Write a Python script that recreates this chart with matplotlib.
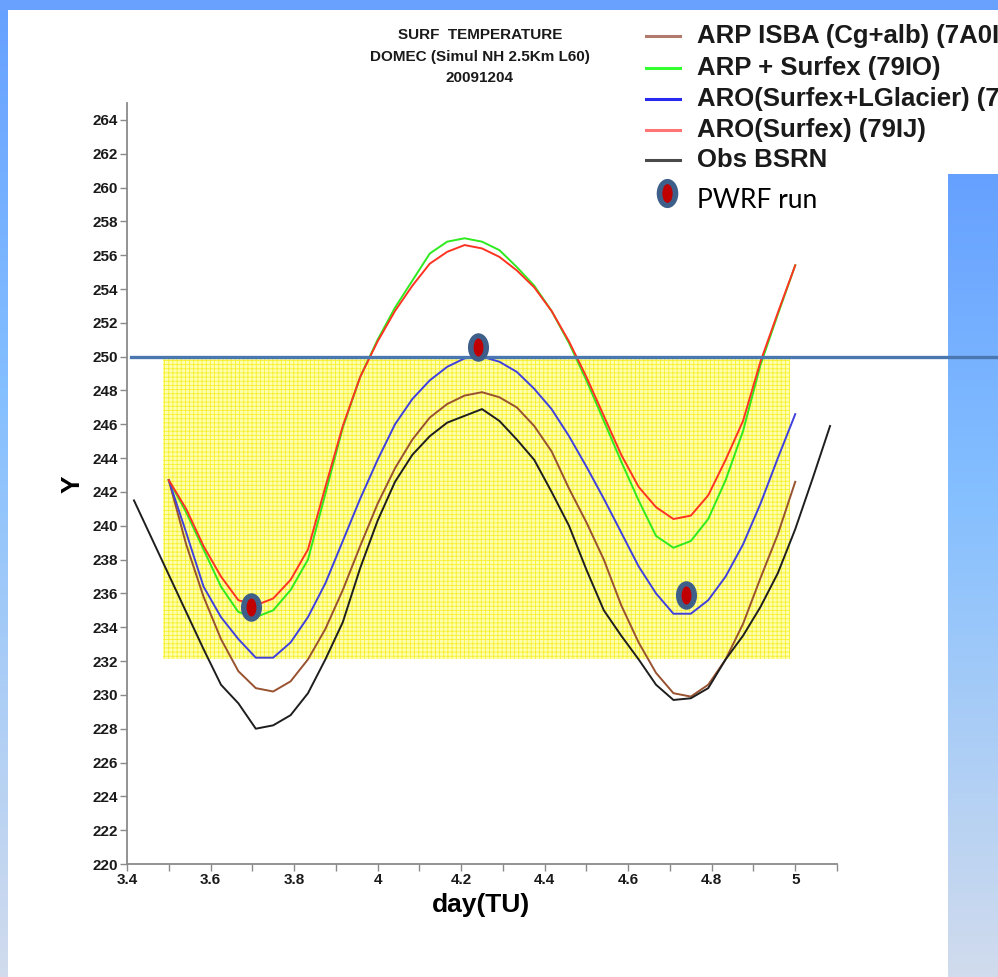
import numpy as np
import matplotlib
matplotlib.use('Agg')
import matplotlib.pyplot as plt
from matplotlib.path import Path
from matplotlib.transforms import Affine2D
from matplotlib.lines import Line2D
from matplotlib.patches import Rectangle
from matplotlib.ticker import MultipleLocator, FuncFormatter

# --- data (hourly, day in TU) ---
model_t0 = 3.5
obs_t0 = 3.4167
step = 1.0 / 24

arp_isba = [242.7, 238.9, 235.8, 233.3, 231.4, 230.4, 230.2, 230.8, 232.1, 233.9,
            236.2, 238.8, 241.3, 243.4, 245.1, 246.4, 247.2, 247.7, 247.9, 247.6,
            247.0, 245.9, 244.4, 242.2, 240.2, 238.0, 235.3, 233.1, 231.3, 230.1,
            229.9, 230.6, 232.1, 234.2, 236.9, 239.5, 242.6]
arp_surfex = [242.7, 240.8, 238.6, 236.4, 234.9, 234.6, 235.0, 236.2, 238.0, 241.9,
              245.8, 248.8, 251.0, 252.9, 254.5, 256.1, 256.8, 257.0, 256.8, 256.3,
              255.3, 254.2, 252.7, 250.8, 248.6, 246.2, 243.8, 241.5, 239.4, 238.7,
              239.1, 240.4, 242.7, 245.6, 249.5, 252.5, 255.4]
aro_lglacier = [242.7, 239.6, 236.4, 234.6, 233.3, 232.2, 232.2, 233.1, 234.6, 236.6,
                239.1, 241.6, 243.9, 246.0, 247.5, 248.6, 249.4, 249.9, 250.0, 249.7,
                249.1, 248.1, 246.9, 245.3, 243.5, 241.6, 239.6, 237.6, 236.0, 234.8,
                234.8, 235.6, 237.0, 238.9, 241.3, 244.0, 246.6]
aro_surfex = [242.7, 241.0, 238.8, 237.0, 235.6, 235.3, 235.7, 236.8, 238.6, 242.3,
              245.9, 248.8, 250.9, 252.7, 254.2, 255.5, 256.2, 256.6, 256.4, 255.9,
              255.1, 254.1, 252.7, 250.9, 248.8, 246.5, 244.2, 242.3, 241.1, 240.4,
              240.6, 241.8, 243.9, 246.2, 249.7, 252.6, 255.4]
obs_bsrn = [241.5, 239.3, 237.1, 234.9, 232.7, 230.6, 229.5, 228.0, 228.2, 228.8,
            230.1, 232.1, 234.3, 237.5, 240.3, 242.6, 244.2, 245.3, 246.1, 246.5,
            246.9, 246.2, 245.1, 243.9, 242.0, 240.0, 237.4, 235.0, 233.5, 232.1,
            230.6, 229.7, 229.8, 230.4, 232.1, 233.5, 235.2, 237.2, 239.8, 242.8,
            245.9]

pwrf_day = [3.698, 4.241, 4.739]
pwrf_temp = [235.2, 250.6, 235.9]

band_day = [3.487, 4.987]
band_temp = [232.1, 250.0]
ref_temp = 250.0

labels = ['ARP ISBA (Cg+alb) (7A0I', 'ARP + Surfex (79IO)', 'ARO(Surfex+LGlacier) (7',
          'ARO(Surfex) (79IJ)', 'Obs BSRN']
line_colors = ['#98522f', '#2eea1e', '#4040e0', '#ff3322', '#1e1e1e']
legend_colors = ['#b07a6c', '#33ff33', '#2828ee', '#ff7474', '#4a4a4a']

W, H = 998, 977


def fx(px):
    return px / W


def fy(py):
    return 1 - py / H


plt.rcParams['font.family'] = ['Liberation Sans', 'DejaVu Sans']
plt.rcParams['hatch.linewidth'] = 0.6

fig = plt.figure(figsize=(W / 100, H / 100), dpi=100, facecolor='white')

# slide background: blue border strips and gradient panel
bg = fig.add_axes([0, 0, 1, 1], zorder=-10)
stops = np.array([[0.40, 0.63, 1.00], [0.52, 0.75, 1.00], [0.82, 0.86, 0.93]])
pos = np.linspace(0, 1, 256)
grad = np.stack([np.interp(pos, [0, 0.4, 1], stops[:, c]) for c in range(3)], axis=1)
grad = grad[:, None, :]
bg.imshow(grad, extent=(948, 998, 977, 174), aspect='auto', interpolation='bilinear')
bg.imshow(grad, extent=(0, 8, 977, 0), aspect='auto', interpolation='bilinear')
bg.add_patch(Rectangle((0, 0), W, 10, color=(0.41, 0.63, 1.0), lw=0))
bg.set_xlim(0, W)
bg.set_ylim(H, 0)
bg.axis('off')

ax = fig.add_axes([fx(127), fy(864), (837 - 127) / W, (864 - 103) / H])
ax.set_facecolor('none')

# yellow shaded window
ax.fill_between(band_day, band_temp[0], band_temp[1], facecolor='#ffffb0',
                edgecolor='#f6f030', hatch='++++', linewidth=0, zorder=1)

model_days = model_t0 + step * np.arange(len(arp_isba))
obs_days = obs_t0 + step * np.arange(len(obs_bsrn))
series = [arp_isba, arp_surfex, aro_lglacier, aro_surfex]
for vals, col in zip(series, line_colors[:4]):
    ax.plot(model_days, vals, color=col, lw=1.4, zorder=3)
ax.plot(obs_days, obs_bsrn, color=line_colors[4], lw=1.4, zorder=3)

# reference line at 250 K, running out to the slide edge
ax.plot([3.41, 6.0], [ref_temp, ref_temp], color='#4a77b0', lw=2.4,
        clip_on=False, zorder=4)

outer = Affine2D().scale(0.74, 1.0).transform_path(Path.unit_circle())
inner = Affine2D().scale(0.55, 1.0).transform_path(Path.unit_circle())
ax.plot(pwrf_day, pwrf_temp, ls='none', marker=outer, ms=20.5, mfc='#3e5f8a',
        mec='none', zorder=6, clip_on=False)
ax.plot(pwrf_day, pwrf_temp, ls='none', marker=inner, ms=13, mfc='#c00000',
        mec='none', zorder=7, clip_on=False)

ax.set_xlim(3.4, 5.1)
ax.set_ylim(220, 265)
ax.xaxis.set_minor_locator(MultipleLocator(0.1))
ax.xaxis.set_major_formatter(FuncFormatter(lambda v, p: '%g' % round(v, 1)))
ax.set_xticks([3.4, 3.6, 3.8, 4.0, 4.2, 4.4, 4.6, 4.8, 5.0])
ax.set_yticks(np.arange(220, 265, 2))
for s in ['top', 'right']:
    ax.spines[s].set_visible(False)
for s in ['left', 'bottom']:
    ax.spines[s].set_color('#8a8a8a')
    ax.spines[s].set_linewidth(1.3)
ax.tick_params(axis='both', which='both', direction='out', length=5, width=1,
               color='#8a8a8a', pad=1.5)
for lab in ax.get_xticklabels() + ax.get_yticklabels():
    lab.set_fontsize(11)
    lab.set_fontweight('bold')
    lab.set_color('#1a1a1a')

fig.text(fx(73), fy(484), 'Y', rotation=90, fontsize=19, fontweight='bold',
         ha='center', va='center')
fig.text(fx(481), fy(905), 'day(TU)', fontsize=19, fontweight='bold',
         ha='center', va='center')

title_lines = ['SURF  TEMPERATURE', 'DOMEC (Simul NH 2.5Km L60)', '20091204']
for txt, py in zip(title_lines, [35, 57, 78]):
    fig.text(fx(480), fy(py), txt, fontsize=11, fontweight='bold',
             ha='center', va='center', color='#1a1a1a')

# hand-placed legend in the top right of the slide
rows = [36, 68, 99, 130, 160]
for lab, col, py in zip(labels, legend_colors, rows):
    fig.add_artist(Line2D([fx(646), fx(680)], [fy(py), fy(py)], color=col, lw=2.2,
                          transform=fig.transFigure))
    fig.text(fx(697), fy(py), lab, fontsize=18.5, fontweight='bold',
             ha='left', va='center', color='#1a1a1a')
outer_l = Affine2D().scale(0.74, 1.0).transform_path(Path.unit_circle())
inner_l = Affine2D().scale(0.55, 1.0).transform_path(Path.unit_circle())
fig.add_artist(Line2D([fx(667)], [fy(193)], ls='none', marker=outer_l, ms=21,
                      mfc='#3e5f8a', mec='none', transform=fig.transFigure))
fig.add_artist(Line2D([fx(667)], [fy(193)], ls='none', marker=inner_l, ms=13.5,
                      mfc='#c00000', mec='none', transform=fig.transFigure))
fig.text(fx(697), fy(200), 'PWRF run', fontsize=19, family=['Lato', 'DejaVu Sans'],
         ha='left', va='center', color='black')

fig.savefig('out.png', dpi=100)
